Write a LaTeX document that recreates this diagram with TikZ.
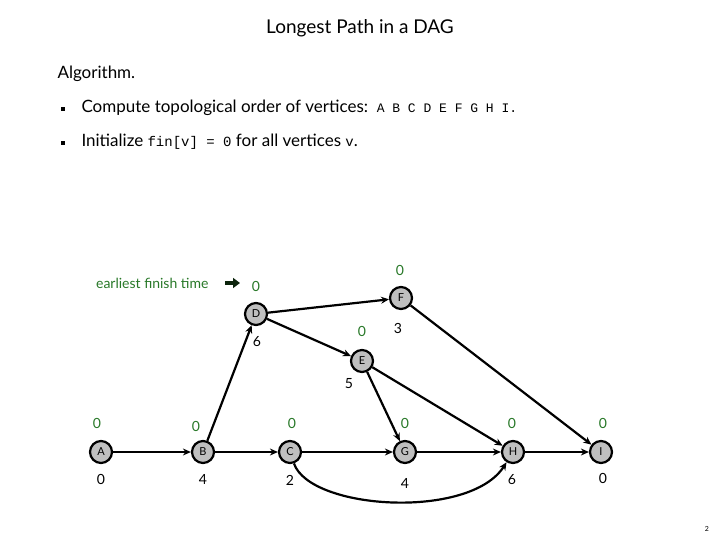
\documentclass[tikz,border=0pt]{standalone}
\usepackage{fontspec}
\setmainfont{Lato}
\setmonofont{Liberation Mono}
\usetikzlibrary{arrows.meta}
\definecolor{grn}{RGB}{40,120,40}
\begin{document}
\begin{tikzpicture}[x=1pt,y=-1pt,
  vtx/.style={circle,draw=black,line width=2.2pt,fill=gray!50,minimum size=22pt,inner sep=0pt,font=\fontsize{11}{12}\selectfont},
  ed/.style={line width=2.2pt,-{Stealth[length=8pt,width=7pt]}},
  gl/.style={text=grn,font=\fontsize{14}{16}\selectfont},
  bl/.style={font=\fontsize{14}{16}\selectfont},
  bul/.style={fill=black,minimum size=4pt,inner sep=0pt}]
\useasboundingbox (0,0) rectangle (720,540);
\node (title) at (360,28) {\fontsize{19}{22}\selectfont Longest Path in a DAG};
\node[anchor=west] (alg) at (54,74) {\fontsize{17}{20}\selectfont Algorithm.};
\node[bul] (b1) at (63,109) {};
\node[bul] (b2) at (63,143) {};
\node[anchor=west] (l1) at (78,108) {\fontsize{17}{20}\selectfont Compute topological order of vertices:\ \ {\ttfamily\fontsize{13}{15}\selectfont A B C D E F G H I.}};
\node[anchor=west] (l2) at (78,142) {\fontsize{17}{20}\selectfont Initialize {\ttfamily\fontsize{14}{16}\selectfont fin[v] = 0} for all vertices {\ttfamily\fontsize{14}{16}\selectfont v}.};
\node[gl,anchor=east] (eft) at (212,283) {earliest finish time};
\coordinate (a1) at (225,283);
\coordinate (a2) at (240,283);
\draw[draw=black!70!grn,line width=4pt,-{Triangle[length=7pt,width=10pt]}] (a1) -- (a2);
\node[vtx] (A) at (101,452) {A};
\node[vtx] (B) at (203,452) {B};
\node[vtx] (C) at (290,452) {C};
\node[vtx] (G) at (405,452) {G};
\node[vtx] (H) at (513,452) {H};
\node[vtx] (I) at (601,452) {I};
\node[vtx] (D) at (256,314) {D};
\node[vtx] (F) at (401,298) {F};
\node[vtx] (E) at (362,361) {E};
\draw[ed] (A) -- (B);
\draw[ed] (B) -- (C);
\draw[ed] (C) -- (G);
\draw[ed] (G) -- (H);
\draw[ed,line width=1.3pt] (H) -- (I);
\draw[ed] (C) .. controls (310,510) and (470,520) .. (H);
\draw[ed] (B) -- (D);
\draw[ed] (D) -- (F);
\draw[ed] (D) -- (E);
\draw[ed] (F) -- (I);
\draw[ed] (E) -- (G);
\draw[ed] (E) -- (H);
\node[gl] (ta) at (97,423) {0};
\node[gl] (tb) at (196,426) {0};
\node[gl] (tc) at (292,423) {0};
\node[gl] (tg) at (405,423) {0};
\node[gl] (th) at (512,423) {0};
\node[gl] (ti) at (603,423) {0};
\node[gl] (td) at (256,286) {0};
\node[gl] (tf) at (400,270) {0};
\node[gl] (te) at (362,331) {0};
\node[bl] (ba) at (101,479) {0};
\node[bl] (bb) at (203,479) {4};
\node[bl] (bc) at (290,480) {2};
\node[bl] (bg) at (405,483) {4};
\node[bl] (bh) at (512,480) {6};
\node[bl] (bi) at (603,478) {0};
\node[bl] (bd) at (257,342) {6};
\node[bl] (bf) at (398,328) {3};
\node[bl] (be) at (349,384) {5};
\node[font=\fontsize{7}{8}\selectfont] (pg) at (707,529) {2};
\end{tikzpicture}
\end{document}
